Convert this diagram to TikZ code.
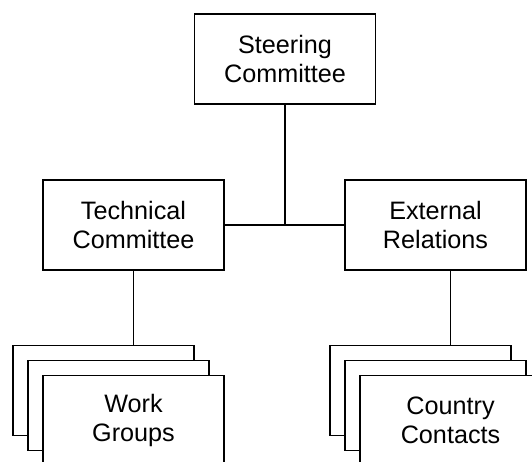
\documentclass[tikz,border=0pt]{standalone}
\usepackage{fontspec}
\setmainfont{Liberation Sans}
\usetikzlibrary{calc}

\tikzset{
	unitbox/.style={draw=black, fill=white, line width=1.5pt, minimum width=181pt, minimum height=90pt, inner sep=0pt, align=center, font=\fontsize{25.2}{28.8}\selectfont},
	link/.style={line width=1.5pt}
}

\begin{document}
\begin{tikzpicture}[x=1pt, y=-1pt]
		%%%%% START %%%%%
		
		\useasboundingbox (0, 0) rectangle (532, 462);
		\clip (0, 0) rectangle (532, 462);
		
		\node[unitbox] (steering) at (285, 59) {Steering\\Committee};
		\node[unitbox] (technical) at (133.5, 225) {Technical\\Committee};
		\node[unitbox] (external) at (435.5, 225) {External\\Relations};
		
		\node[unitbox] (work3) at (103.5, 390.7) {};
		\node[unitbox] (work2) at (118.5, 405.7) {};
		\node[unitbox] (work1) at (133.5, 420.7) {Work\\Groups};
		
		\node[unitbox] (country3) at (420.5, 390.7) {};
		\node[unitbox] (country2) at (435.5, 405.7) {};
		\node[unitbox] (country1) at (450.5, 420.7) {Country\\Contacts};
		
		\draw[link] (technical.east) -- (external.west);
		\draw[link] (steering.south) -- (steering.south |- technical.east);
		
		\draw[link] (technical.south) -- (technical.south |- work3.north);
		\draw[link] (country1.north |- external.south) -- (country1.north |- country3.north);
		
		%%%%% END %%%%%
\end{tikzpicture}
\end{document}
